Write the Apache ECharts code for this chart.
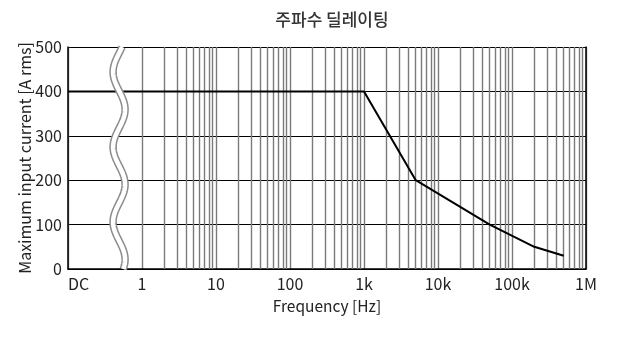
<!DOCTYPE html>
<html>
<head>
<meta charset="utf-8">
<script src="https://cdn.jsdelivr.net/npm/echarts@6/dist/echarts.min.js"></script>
<style>
html,body{margin:0;padding:0;background:#fff;}
#c{width:631px;height:347px;}
</style>
</head>
<body>
<div id="c"></div>
<script>
// ---- data ----
const titleText = '주파수 딜레이팅';
const xName = 'Frequency [Hz]';
const yName = 'Maximum input current [A rms]';
const freqs = [0.1, 1000, 5000, 50000, 200000, 500000];   // Hz (0.1 = DC)
const currents = [400, 400, 200, 100, 50, 30];           // A rms
const majorTicks = [0.1, 1, 10, 100, 1000, 10000, 100000, 1000000];
const majorLabels = ['DC', '1', '10', '100', '1k', '10k', '100k', '1M'];
const minorMultipliers = [2, 3, 4, 5, 6, 7, 8, 9];
const minorDecades = [1, 10, 100, 1000, 10000, 100000];
const breakFreq = 0.49; // position of the axis break between DC and 1

const FONT = '"Noto Sans CJK KR", "Noto Sans", sans-serif';
const minorFreqs = [];
minorDecades.forEach(d => minorMultipliers.forEach(m => minorFreqs.push(d * m)));

function labelFor(v) {
  for (let i = 0; i < majorTicks.length; i++) {
    if (Math.abs(Math.log10(v) - Math.log10(majorTicks[i])) < 1e-6) return majorLabels[i];
  }
  return '';
}

const chart = echarts.init(document.getElementById('c'), null, {renderer: 'canvas'});
const option = {
  animation: false,
  textStyle: {fontFamily: FONT},
  title: {
    text: titleText, left: 327, top: 6, textAlign: 'center',
    textStyle: {fontFamily: FONT, fontSize: 17, fontWeight: 500, color: '#333'}
  },
  grid: {left: 68, right: 45, top: 47, bottom: 78, containLabel: false},
  xAxis: {
    type: 'log', logBase: 10, min: 0.1, max: 1000000, splitNumber: 7,
    name: xName, nameLocation: 'middle', nameGap: 29,
    nameTextStyle: {fontFamily: FONT, fontSize: 15.5, color: '#222'},
    axisLine: {show: true, lineStyle: {color: '#000', width: 1.5}},
    axisTick: {show: false},
    axisLabel: {
      fontFamily: FONT, fontSize: 16, color: '#222', margin: 7,
      alignMinLabel: 'left',
      formatter: v => labelFor(v)
    },
    splitLine: {show: true, lineStyle: {color: '#7a7a7a', width: 1.4}},
    minorTick: {show: false}, minorSplitLine: {show: false}
  },
  yAxis: [{
    type: 'value', min: 0, max: 500, interval: 100,
    name: yName, nameLocation: 'middle', nameGap: 35, nameMoveOverlap: false,
    nameTextStyle: {fontFamily: FONT, fontSize: 16, color: '#222'},
    axisLine: {show: true, lineStyle: {color: '#000', width: 1.5}},
    axisTick: {show: false},
    axisLabel: {fontFamily: FONT, fontSize: 16, color: '#222', margin: 6},
    splitLine: {show: true, lineStyle: {color: '#000', width: 1}}
  }, {
    type: 'value', min: 0, max: 500, interval: 100, position: 'right',
    axisLine: {show: true, lineStyle: {color: '#000', width: 1.5}},
    axisTick: {show: false}, axisLabel: {show: false}, splitLine: {show: false}
  }],
  series: [{
    type: 'line', data: [], z: 1, silent: true,
    markLine: {
      silent: true, symbol: ['none', 'none'], label: {show: false},
      lineStyle: {color: '#7a7a7a', width: 1.4, type: 'solid'},
      emphasis: {disabled: true},
      data: minorFreqs.map(f => ({xAxis: f}))
    }
  }, {
    type: 'line', z: 5,
    data: freqs.map((f, i) => [f, currents[i]]),
    showSymbol: false, symbol: 'none',
    lineStyle: {color: '#000', width: 2},
    itemStyle: {color: '#000'}
  }]
};
chart.setOption(option);

// decorative wavy axis-break marker between DC and 1
function drawBreak() {
  const cx = chart.convertToPixel({xAxisIndex: 0}, breakFreq);
  const yTop = chart.convertToPixel({yAxisIndex: 0}, 500);
  const yBot = chart.convertToPixel({yAxisIndex: 0}, 0);
  const amp = 6, period = 75, phaseY = yTop + 25;
  const pts = [];
  for (let y = yTop; y <= yBot + 0.01; y += 1) {
    pts.push([cx - amp * Math.cos(2 * Math.PI * (y - phaseY) / period), y]);
  }
  chart.setOption({
    graphic: [
      {type: 'polyline', shape: {points: pts}, silent: true, z: 100,
       style: {stroke: '#8c8c8c', lineWidth: 7.5, fill: null}},
      {type: 'polyline', shape: {points: pts}, silent: true, z: 101,
       style: {stroke: '#fff', lineWidth: 4.5, fill: null}}
    ]
  });
}
drawBreak();
</script>
</body>
</html>
